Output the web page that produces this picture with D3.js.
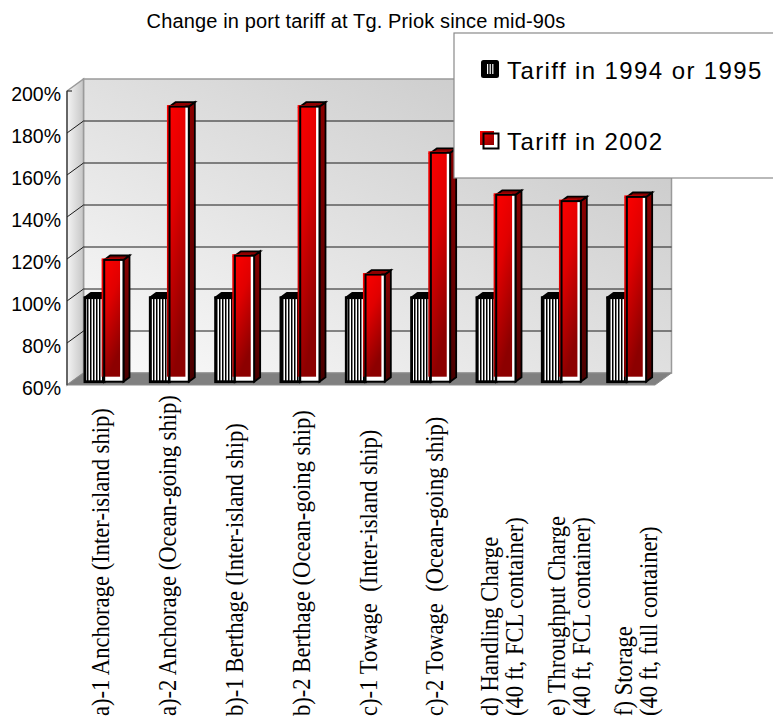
<!DOCTYPE html>
<html>
<head>
<meta charset="utf-8">
<script src="https://cdn.jsdelivr.net/npm/d3@7"></script>
<style>
  html, body { margin: 0; padding: 0; background: #fff; }
  svg { display: block; }
  .xlabel { white-space: pre; }
</style>
</head>
<body>
<svg id="chart" width="773" height="717"></svg>
<script>
// Port tariff index at Tanjung Priok (mid-90s level = 100%)
const categories = [
  "a)-1 Anchorage (Inter-island ship)",
  "a)-2 Anchorage (Ocean-going ship)",
  "b)-1 Berthage (Inter-island ship)",
  "b)-2 Berthage (Ocean-going ship)",
  "c)-1 Towage  (Inter-island ship)",
  "c)-2 Towage  (Ocean-going ship)",
  "d) Handling Charge\n(40 ft, FCL container)",
  "e) Throughput Charge\n(40 ft, FCL container)",
  "f) Storage\n(40 ft, full container)"
];
const seriesNames = ["Tariff in 1994 or 1995", "Tariff in 2002"];
const tariffMid90s = [100, 100, 100, 100, 100, 100, 100, 100, 100];
const tariff2002 = [118, 191, 120, 191, 111, 169, 149, 146, 148];
const yTicks = [60, 80, 100, 120, 140, 160, 180, 200];
const chartTitle = "Change in port tariff at Tg. Priok since mid-90s";

const svg = d3.select("#chart");
const defs = svg.append("defs");

// ---- layout of the 3D box ----
const front = { left: 67, right: 655, top: 91, bottom: 385 };
const depth = { dx: 16.5, dy: -12 };
const barDepth = { f0: 0.275, f1: 0.64 };

const y = d3.scaleLinear().domain([60, 200]).range([front.bottom, front.top]);
const x0 = d3.scaleBand().domain(d3.range(categories.length)).range([front.left, front.right]);
const x1 = d3.scaleBand().domain([0, 1])
  .range([x0.bandwidth() * 0.205, x0.bandwidth() * 0.795]);
const xLabel = d3.scaleBand().domain(d3.range(categories.length)).range([66.5, 668.5]);

const proj = (px, py, f) => [px + f * depth.dx, py + f * depth.dy];
const poly = pts => pts.map(p => p.join(",")).join(" ");

// ---- gradients & patterns ----
const wallGrad = defs.append("linearGradient").attr("id", "wallGrad")
  .attr("x1", 0).attr("y1", 1).attr("x2", 1).attr("y2", 0);
wallGrad.append("stop").attr("offset", "0%").attr("stop-color", "#fbfbfb");
wallGrad.append("stop").attr("offset", "100%").attr("stop-color", "#c4c4c4");

const sideGrad = defs.append("linearGradient").attr("id", "sideGrad")
  .attr("x1", 0).attr("y1", 0).attr("x2", 1).attr("y2", 0);
sideGrad.append("stop").attr("offset", "0%").attr("stop-color", "#f4f4f4");
sideGrad.append("stop").attr("offset", "100%").attr("stop-color", "#c6c6c6");

const redGrad = defs.append("linearGradient").attr("id", "redGrad")
  .attr("x1", 0).attr("y1", 0).attr("x2", 0.35).attr("y2", 1);
redGrad.append("stop").attr("offset", "0%").attr("stop-color", "#ff0000");
redGrad.append("stop").attr("offset", "45%").attr("stop-color", "#e00000");
redGrad.append("stop").attr("offset", "100%").attr("stop-color", "#8c0000");

const redSide = defs.append("linearGradient").attr("id", "redSide")
  .attr("x1", 0).attr("y1", 0).attr("x2", 0).attr("y2", 1);
redSide.append("stop").attr("offset", "0%").attr("stop-color", "#8a0000");
redSide.append("stop").attr("offset", "100%").attr("stop-color", "#4a0000");

const legRed = defs.append("linearGradient").attr("id", "legRed")
  .attr("x1", 0).attr("y1", 0).attr("x2", 1).attr("y2", 1);
legRed.append("stop").attr("offset", "0%").attr("stop-color", "#ff0000");
legRed.append("stop").attr("offset", "100%").attr("stop-color", "#8c0000");

const stripes = defs.append("pattern").attr("id", "stripes")
  .attr("patternUnits", "userSpaceOnUse").attr("width", 3).attr("height", 10);
stripes.append("rect").attr("width", 3).attr("height", 10).attr("fill", "#fff");
stripes.append("rect").attr("width", 1.5).attr("height", 10).attr("fill", "#000");

// ---- walls and floor ----
const backL = proj(front.left, 0, 1)[0], backR = proj(front.right, 0, 1)[0];
const backTop = proj(0, front.top, 1)[1], backBot = proj(0, front.bottom, 1)[1];

svg.append("rect")
  .attr("x", backL).attr("y", backTop)
  .attr("width", backR - backL).attr("height", backBot - backTop)
  .attr("fill", "url(#wallGrad)").attr("stroke", "#9a9a9a").attr("stroke-width", 1.5);

svg.append("polygon")
  .attr("points", poly([[front.left, front.top], proj(front.left, front.top, 1),
                        proj(front.left, front.bottom, 1), [front.left, front.bottom]]))
  .attr("fill", "url(#sideGrad)").attr("stroke", "#9a9a9a").attr("stroke-width", 1.5);

svg.append("polygon")
  .attr("points", poly([[front.left, front.bottom], proj(front.left, front.bottom, 1),
                        proj(front.right, front.bottom, 1), [front.right, front.bottom]]))
  .attr("fill", "#808080").attr("stroke", "#8c8c8c").attr("stroke-width", 1);

// gridlines on the back wall and side wall
const grid = svg.append("g").attr("stroke", "#1a1a1a").attr("stroke-width", 1).attr("fill", "none");
yTicks.filter(v => v > 60 && v < 200).forEach(v => {
  const yy = y(v);
  const b = proj(front.left, yy, 1);
  grid.append("line").attr("x1", b[0]).attr("y1", b[1]).attr("x2", backR).attr("y2", b[1]);
  grid.append("line").attr("x1", front.left).attr("y1", yy).attr("x2", b[0]).attr("y2", b[1]);
});

// front vertical axis line with small top tick
svg.append("line").attr("x1", front.left).attr("x2", front.left)
  .attr("y1", front.top).attr("y2", front.bottom)
  .attr("stroke", "#333").attr("stroke-width", 1.2);
svg.append("line").attr("x1", front.left).attr("x2", front.left + 5)
  .attr("y1", front.top).attr("y2", front.top)
  .attr("stroke", "#333").attr("stroke-width", 1.2);

// ---- y axis labels ----
const yAxis = svg.append("g")
  .attr("transform", `translate(${front.left},0)`)
  .call(d3.axisLeft(y).tickValues(yTicks).tickFormat(d => d + "%").tickSize(0).tickPadding(6));
yAxis.select(".domain").remove();
yAxis.selectAll("text")
  .attr("dy", "0.5em")
  .attr("font-family", "'Liberation Sans', Arial, sans-serif")
  .attr("font-size", 19.5)
  .attr("fill", "#000");

// ---- bars ----
const series = [tariffMid90s, tariff2002];
const sideOff = [(barDepth.f1 - barDepth.f0) * depth.dx, (barDepth.f1 - barDepth.f0) * depth.dy];
const barsG = svg.append("g");

categories.forEach((c, i) => {
  series.forEach((vals, s) => {
    const v = vals[i];
    const fx = x0(i) + x1(s);
    const w = x1.bandwidth();
    const [bx, by] = proj(fx, y(v), barDepth.f0);
    const byb = proj(fx, y(60), barDepth.f0)[1];
    const h = byb - by;
    const g = barsG.append("g");
    const sidePts = [[bx + w, by], [bx + w + sideOff[0], by + sideOff[1]],
                     [bx + w + sideOff[0], byb + sideOff[1]], [bx + w, byb]];
    const topPts = [[bx, by], [bx + sideOff[0], by + sideOff[1]],
                    [bx + w + sideOff[0], by + sideOff[1]], [bx + w, by]];
    if (s === 0) {
      g.append("polygon").attr("points", poly(sidePts))
        .attr("fill", "#000").attr("stroke", "#000").attr("stroke-width", 2);
      g.append("polygon").attr("points", poly(topPts))
        .attr("fill", "#000").attr("stroke", "#000").attr("stroke-width", 2.4)
        .attr("stroke-linejoin", "round");
      g.append("rect").attr("x", bx).attr("y", by).attr("width", w).attr("height", h)
        .attr("fill", "url(#stripes)").attr("stroke", "#000").attr("stroke-width", 2.8);
    } else {
      g.append("polygon").attr("points", poly(sidePts))
        .attr("fill", "url(#redSide)").attr("stroke", "#000").attr("stroke-width", 1.8);
      g.append("polygon").attr("points", poly(topPts))
        .attr("fill", "#8e0000").attr("stroke", "#000").attr("stroke-width", 1.8);
      g.append("rect").attr("x", bx).attr("y", by).attr("width", w).attr("height", h)
        .attr("fill", "#fff");
      g.append("rect").attr("x", bx - 2.6).attr("y", by - 1.5)
        .attr("width", w - 0.8).attr("height", h - 3.5)
        .attr("fill", "url(#redGrad)");
      g.append("rect").attr("x", bx).attr("y", by).attr("width", w).attr("height", h)
        .attr("fill", "none").attr("stroke", "#000").attr("stroke-width", 2);
    }
  });
});

// ---- category labels (rotated, reading upward, slightly condensed serif) ----
const labelG = svg.append("g")
  .attr("font-family", "'Liberation Serif', 'Times New Roman', serif")
  .attr("font-size", 26).attr("fill", "#000");
categories.forEach((c, i) => {
  const lines = c.split("\n");
  const cx = xLabel(i) + xLabel.bandwidth() / 2;
  lines.forEach((ln, j) => {
    const lx = cx + (j - (lines.length - 1) / 2) * 25;
    labelG.append("text").attr("class", "xlabel")
      .attr("transform", `translate(${lx},716) rotate(-90) scale(0.87,1)`)
      .attr("text-anchor", "start")
      .attr("dominant-baseline", "central")
      .text(ln);
  });
});

// ---- title ----
svg.append("text")
  .attr("x", 356).attr("y", 28)
  .attr("text-anchor", "middle")
  .attr("font-family", "'Liberation Sans', Arial, sans-serif")
  .attr("font-size", 20).attr("letter-spacing", 0.15)
  .attr("fill", "#000")
  .text(chartTitle);

// ---- legend ----
const leg = svg.append("g");
leg.append("rect").attr("x", 454).attr("y", 33).attr("width", 340).attr("height", 145)
  .attr("fill", "#fff").attr("stroke", "#8a8a8a").attr("stroke-width", 1.2);

// swatch: striped series
leg.append("rect").attr("x", 481).attr("y", 60).attr("width", 18).attr("height", 18)
  .attr("rx", 2.5).attr("fill", "#000");
[487, 489.6, 492.2].forEach(sx => {
  leg.append("rect").attr("x", sx).attr("y", 64).attr("width", 1.2).attr("height", 10)
    .attr("fill", "#fff");
});
// swatch: red series
leg.append("rect").attr("x", 483.5).attr("y", 133.5).attr("width", 15).attr("height", 15)
  .attr("fill", "#fff");
leg.append("rect").attr("x", 480).attr("y", 131).attr("width", 14).attr("height", 14)
  .attr("fill", "url(#legRed)");
leg.append("rect").attr("x", 483.5).attr("y", 133.5).attr("width", 15).attr("height", 15)
  .attr("fill", "none").attr("stroke", "#000").attr("stroke-width", 2);

leg.selectAll("text.leg").data(seriesNames).join("text")
  .attr("class", "leg")
  .attr("x", 507).attr("y", (d, k) => 79 + k * 71)
  .attr("font-family", "'Liberation Sans', Arial, sans-serif")
  .attr("font-size", 24).attr("letter-spacing", 1.4)
  .attr("fill", "#000")
  .text(d => d);
</script>
</body>
</html>
